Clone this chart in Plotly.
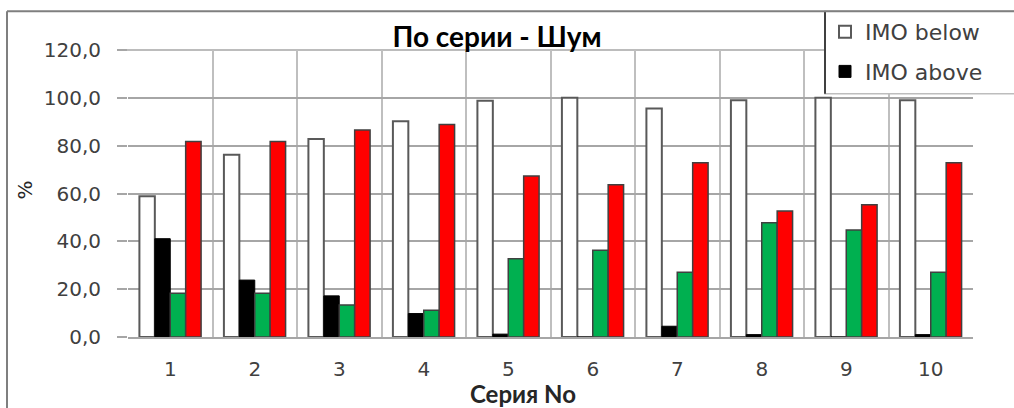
import plotly.graph_objects as go

# Series No. 1..10
categories = [1, 2, 3, 4, 5, 6, 7, 8, 9, 10]
tick_labels = ["1", "2", "3", "4", "5", "6", "7", "8", "9", "10"]

# Percentages per series
imo_below = [58.9, 76.2, 82.8, 90.2, 98.8, 100.0, 95.5, 99.0, 100.0, 99.0]
imo_above = [41.1, 23.8, 17.2, 9.8, 1.2, 0.0, 4.5, 1.0, 0.0, 1.0]
green_vals = [18.3, 18.3, 13.4, 11.2, 32.7, 36.3, 27.1, 47.8, 44.7, 27.1]
red_vals = [81.7, 81.7, 86.6, 88.8, 67.3, 63.7, 72.9, 52.7, 55.3, 72.9]

W, H = 1014, 408
L, R, T, B = 128, 41, 49, 71
PW, PH = W - L - R, H - T - B


def px(x):
    return (x - L) / PW


def py(y):
    return (H - B - y) / PH


tick_font = dict(family="DejaVu Sans", size=20, color="#404040")
outline = "#404040"

fig = go.Figure()
fig.add_trace(go.Bar(x=categories, y=imo_below, name="IMO below", legendgroup="a",
                     marker=dict(color="white", line=dict(color="#595959", width=2))))
fig.add_trace(go.Bar(x=categories, y=imo_above, name="IMO above", legendgroup="b",
                     marker=dict(color="black", line=dict(color="#000000", width=1))))
fig.add_trace(go.Bar(x=categories, y=green_vals, name="Ряд 3", showlegend=False,
                     marker=dict(color="#00B050", line=dict(color=outline, width=1.5))))
fig.add_trace(go.Bar(x=categories, y=red_vals, name="Ряд 4", showlegend=False,
                     marker=dict(color="#FF0000", line=dict(color=outline, width=1.5))))

shapes = [
    # top gridline of the plot area
    dict(type="line", xref="paper", yref="paper", layer="below",
         x0=px(118), x1=1, y0=1, y1=1,
         line=dict(color="#A6A6A6", width=1.5)),
    # legend box (white panel with left/bottom edges)
    dict(type="rect", xref="paper", yref="paper", layer="above",
         x0=px(825), x1=px(1020), y0=py(93), y1=py(10),
         fillcolor="white", line=dict(color="#BDBDBD", width=1.5)),
    dict(type="line", xref="paper", yref="paper", layer="above",
         x0=px(825), x1=px(825), y0=py(93), y1=py(10),
         line=dict(color="#404040", width=2)),
    # chart area border
    dict(type="line", xref="paper", yref="paper", layer="above",
         x0=px(7), x1=px(1020), y0=py(10), y1=py(10),
         line=dict(color="#7F7F7F", width=2)),
    dict(type="line", xref="paper", yref="paper", layer="above",
         x0=px(7), x1=px(7), y0=py(10), y1=py(412),
         line=dict(color="#7F7F7F", width=2)),
]

annotations = [
    dict(text="<b>Серия No</b>", xref="paper", yref="paper", x=px(523), y=py(394),
         xanchor="center", yanchor="middle", showarrow=False,
         font=dict(family="Lato", size=24, color="#262626")),
    dict(text="%", xref="paper", yref="paper", x=px(25), y=py(190),
         xanchor="center", yanchor="middle", showarrow=False, textangle=-90,
         font=dict(family="DejaVu Sans", size=20, color="#262626")),
]

fig.update_layout(
    width=W, height=H,
    margin=dict(l=L, r=R, t=T, b=B, pad=0),
    paper_bgcolor="white", plot_bgcolor="white",
    separators=", ",
    barmode="group", bargap=0.27, bargroupgap=0,
    title=dict(text="<b>По серии - Шум</b>", x=px(497), xref="paper", xanchor="center",
               y=1 - 37 / H, yanchor="middle",
               font=dict(family="Lato", size=28, color="#000000")),
    legend=dict(x=px(825), y=py(11), xanchor="left", yanchor="top",
                bgcolor="rgba(0,0,0,0)", borderwidth=0,
                font=dict(family="DejaVu Sans", size=22, color="#404040"),
                traceorder="grouped", tracegroupgap=8, itemwidth=30),
    shapes=shapes,
    annotations=annotations,
    xaxis=dict(range=[0.5, 10.5], tickmode="array", tickvals=categories, ticktext=tick_labels,
               showgrid=False, ticks="", tickfont=tick_font, ticklabelstandoff=13,
               showline=True, linecolor="#A6A6A6", linewidth=1.5, zeroline=False,
               minor=dict(tick0=0.5, dtick=1, showgrid=True, gridcolor="#BFBFBF", gridwidth=1.5)),
    yaxis=dict(range=[0, 120], tickmode="linear", tick0=0, dtick=20, tickformat=".1f",
               showgrid=True, gridcolor="#A6A6A6", gridwidth=1.5, zeroline=False,
               ticks="outside", ticklen=10, tickcolor="#A6A6A6", tickwidth=1.5,
               tickfont=tick_font, ticklabelstandoff=12, showline=False),
)

fig.write_html("out.html")
